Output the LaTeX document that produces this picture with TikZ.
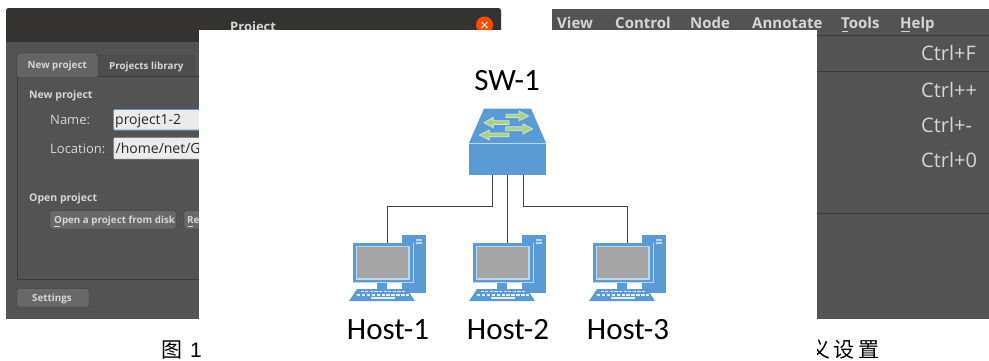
\documentclass[tikz,border=0pt]{standalone}
\usepackage{fontspec}
\setmainfont{Open Sans}
\newfontfamily\lblfont{Carlito}
\newfontfamily\cjkfont{Noto Sans CJK SC}
\newfontfamily\capfont{Liberation Sans}
\definecolor{panel}{HTML}{535353}
\definecolor{titlebar}{HTML}{343332}
\definecolor{tabdark}{HTML}{4A4A4A}
\definecolor{edge}{HTML}{3A3A3A}
\definecolor{uitext}{HTML}{D6D6D6}
\definecolor{hi}{HTML}{5B9BD5}
\definecolor{hil}{HTML}{BDD7EE}
\definecolor{scr}{HTML}{A5A5A5}
\definecolor{arr}{HTML}{A9D18E}
\definecolor{wire}{HTML}{404040}
\tikzset{
 x=1pt,y=-1pt,
 ui/.style={inner sep=0pt,text=uitext,font=\fontsize{13}{13}\selectfont,anchor=base west},
 uib/.style={ui,font=\fontsize{9.8}{9.8}\selectfont\bfseries},
 uih/.style={ui,font=\fontsize{10.5}{10.5}\selectfont\bfseries},
 uiv/.style={ui,text=black!85,font=\fontsize{14}{14}\selectfont},
 uic/.style={ui,font=\fontsize{20}{20}\selectfont},
 menu/.style={ui,font=\fontsize{15}{15}\selectfont\bfseries},
 lbl/.style={inner sep=0pt,text=black,font=\lblfont\fontsize{31}{31}\selectfont,anchor=base},
 btn/.style={draw=edge,fill=panel!88!white,rounded corners=1.5pt},
 wirel/.style={draw=wire,line width=0.9pt},
 arrowshape/.style={fill=arr,draw=white!55!arr,line width=.7pt},
 pics/hostpc/.style={code={
  \fill[hi] (14,-27) rectangle (38,31);
  \fill[hil] (28,-23) rectangle (34,-21);
  \fill[hil] (28,-20) rectangle (34,-18);
  \fill[hi] (-35,-19) rectangle (25,20);
  \draw[hil,line width=0.7pt] (25.3,-19) -- (25.3,20.3) -- (-35,20.3);
  \fill[hil] (-32.5,-16.5) rectangle (21.5,17.5);
  \fill[scr] (-31,-15) rectangle (20,16);
  \fill[hi] (-11,21) rectangle (-1,27);
  \fill[hi] (-31,27) -- (19,27) -- (27,39) -- (-39,39) -- cycle;
  \foreach \i in {0,...,9}{\fill[white!85!hi] ({-27.5+\i*4.6},28.8) rectangle ++(3.2,1.6);}
  \foreach \i in {0,...,10}{\fill[white!85!hi] ({-31+\i*4.9},32) rectangle ++(3.4,1.6);}
  \fill[white!85!hi] (-17,35) rectangle (7,37);
 }},
}
\begin{document}
\begin{tikzpicture}
\useasboundingbox (0,0) rectangle (989,360);
\fill[white] (0,0) rectangle (989,360);
% left window
\fill[titlebar,rounded corners=2.5pt] (6,8) rectangle (501,60);
\fill[panel] (6,42) rectangle (501,319);
\draw[edge] (17,76) -- (17,279) -- (199,279);
\draw[edge] (17,76) -- (199,76);
\fill[tabdark!60!panel,draw=edge] (99,76) -- (99,57) -- (101,55) -- (192,55) -- (194,57) -- (194,76);
\fill[panel!90!white,draw=edge] (17,76) -- (17,56) -- (19,53) -- (96,53) -- (98,56) -- (98,76) -- cycle;
\fill[panel!90!white] (18,75) rectangle (97,77);
\node[uib] (tab1) at (27.5,68) {New project};
\node[uib] (tab2) at (109,69) {Projects library};
\node[uih] (h1) at (29,98.5) {New project};
\node[ui] (nm) at (50,124) {Name:};
\node[ui] (lc) at (50,153) {Location:};
\fill[white!92!black,draw=hi,line width=0.8pt,rounded corners=1pt] (113.5,109.5) rectangle (205,130);
\fill[white!92!black,draw=gray,line width=0.4pt,rounded corners=1pt] (113.5,137.5) rectangle (205,159);
\node[uiv] (v1) at (115,124.5) {project1-2};
\node[uiv] (v2) at (115.5,153.5) {/home/net/GNS3};
\node[uih] (h2) at (29,201) {Open project};
\fill[btn] (50,210.5) rectangle (176,229);
\fill[btn] (184,210.5) rectangle (205,229);
\node[uib] (b1) at (54,223.5) {Open a project from disk};
\draw[uitext,line width=.6pt] (54,226) -- (60,226) (187.5,226) -- (193,226);
\node[uib] (b2) at (187,223.5) {Recent};
\fill[btn] (17,288.5) rectangle (89,307);
\node[uib] (b3) at (32,301.5) {Settings};
\node[ui,font=\fontsize{13}{13}\selectfont\bfseries] (title) at (230,31) {Project};
\fill[orange!60!red] (484.5,25) circle (8.5pt);
\draw[white,line width=1pt] (481.5,22) -- (487.5,28) (481.5,28) -- (487.5,22);
% right window
\fill[panel] (552,9) rectangle (989,319);
\draw[edge,line width=0.7pt] (552,35.5) -- (989,35.5);
\draw[edge,line width=0.7pt] (552,71) -- (989,71);
\draw[edge,line width=0.7pt] (552,213) -- (989,213);
\node[menu] (m1) at (557,28) {View};
\node[menu] (m2) at (615,28) {Control};
\node[menu] (m3) at (690,28) {Node};
\node[menu] (m4) at (752,28) {Annotate};
\node[menu] (m5) at (841,28) {Tools};
\node[menu] (m6) at (900,28) {Help};
\draw[uitext,line width=.8pt] (841.5,31) -- (848,31) (900.5,31) -- (910,31);
\node[uic] (k1) at (921,60.5) {Ctrl+F};
\node[uic] (k2) at (921,97.5) {Ctrl++};
\node[uic] (k3) at (921,132.5) {Ctrl+-};
\node[uic] (k4) at (921,167.5) {Ctrl+0};
% captions
\node[inner sep=0pt,anchor=base west,font=\cjkfont\fontsize{21}{21}\selectfont] (c1) at (161,357) {图};
\node[inner sep=0pt,anchor=base west,font=\capfont\fontsize{21}{21}\selectfont] (c1b) at (190,357) {1};
\begin{scope}
\clip (817,330) rectangle (989,360);
\node[inner sep=0pt,anchor=base west,font=\cjkfont\fontsize{21}{21}\selectfont] (c2) at (809,357) {义\hspace{3.5pt}设\hspace{3.5pt}置};
\end{scope}
% white diagram panel
\fill[white] (199,30) rectangle (817,319);
% switch
\fill[hi] (484,108.5) -- (531,108.5) -- (546,143) -- (469,143) -- cycle;
\fill[hi] (469,144) rectangle (546,174.5);
\draw[hil,line width=.6pt] (469,143.5) -- (546,143.5);
\coordinate (p1) at (492.5,174.5);
\coordinate (p2) at (507.5,174.5);
\coordinate (p3) at (523.5,174.5);
\path[arrowshape] (506,114.3) -- (519,114.3) -- (519,111) -- (528.7,116) -- (519,120.7) -- (519,117.5) -- (506,117.5) -- cycle;
\path[arrowshape] (509,120.8) -- (493.3,120.8) -- (493.3,117.3) -- (484,122.7) -- (493.3,127.7) -- (493.3,124.4) -- (509,124.4) -- cycle;
\path[arrowshape] (505.7,126.8) -- (523,126.8) -- (523,123.7) -- (532.7,129) -- (523,134) -- (523,130.7) -- (505.7,130.7) -- cycle;
\path[arrowshape] (509,133) -- (489.3,133) -- (489.3,130) -- (479.3,135) -- (489.3,140) -- (489.3,136.8) -- (509,136.8) -- cycle;
% hosts
\pic (pc1) at (388,262) {hostpc};
\pic (pc2) at (508,262) {hostpc};
\pic (pc3) at (628,262) {hostpc};
\coordinate (h1t) at (387.5,243);
\coordinate (h2t) at (507.5,243);
\coordinate (h3t) at (627.5,243);
\draw[wirel] (p1) -- (492.5,206) -- (387.5,206) -- (h1t);
\draw[wirel] (p2) -- (h2t);
\draw[wirel] (p3) -- (523.5,206) -- (627.5,206) -- (h3t);
% labels
\node[lbl] (sw) at (507,90) {SW-1};
\node[lbl] (l1) at (388,339) {Host-1};
\node[lbl] (l2) at (508,339) {Host-2};
\node[lbl] (l3) at (628,339) {Host-3};
\end{tikzpicture}
\end{document}
